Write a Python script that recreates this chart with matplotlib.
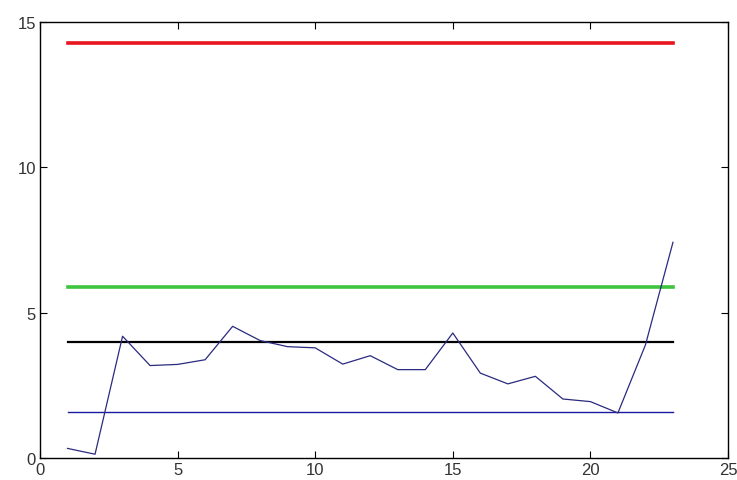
import matplotlib
matplotlib.use("Agg")
import matplotlib.pyplot as plt
import numpy as np

x = list(range(1, 24))
y = [0.33, 0.13, 4.19, 3.18, 3.22, 3.38, 4.53, 4.04, 3.83, 3.79, 3.23, 3.52,
     3.04, 3.04, 4.30, 2.92, 2.55, 2.81, 2.03, 1.94, 1.55, 3.89, 7.42]
x_range = [1, 23]
red_level = 14.28
green_level = 5.89
black_level = 4.0
blue_level = 1.59
xticks = [0, 5, 10, 15, 20, 25]
yticks = [0, 5, 10, 15]

plt.rcParams['font.family'] = ['Liberation Sans', 'DejaVu Sans']
fig = plt.figure(figsize=(7.37, 4.81), dpi=100)
ax = fig.add_axes([40/737, 22/481, 688/737, 436/481])

ax.plot(x_range, [red_level]*2, color='#e8141e', lw=2.6)
ax.plot(x_range, [green_level]*2, color='#3ec43e', lw=2.6)
ax.plot(x_range, [black_level]*2, color='black', lw=1.6)
ax.plot(x_range, [blue_level]*2, color='#1a1aa0', lw=1.0)
ax.plot(x, y, color='#2a2a80', lw=0.9)

ax.set_xlim(0, 25)
ax.set_ylim(0, 15)
ax.set_xticks(xticks)
ax.set_yticks(yticks)
ax.tick_params(direction='in', top=True, right=True, length=5, labelsize=12,
               width=0.8, labelcolor='#333333', pad=3)
for s in ax.spines.values():
    s.set_linewidth(1.0)

fig.savefig('out.png', dpi=100)
